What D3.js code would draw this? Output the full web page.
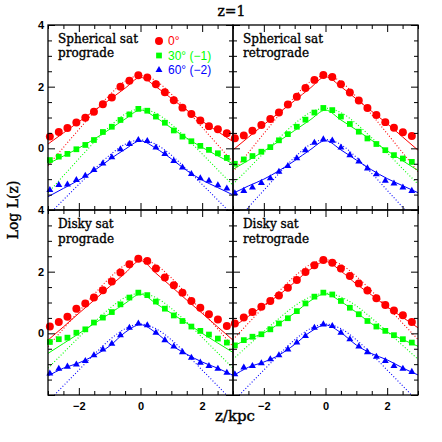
<!DOCTYPE html>
<html>
<head>
<meta charset="utf-8">
<script src="https://cdn.jsdelivr.net/npm/d3@7"></script>
<style>
body { margin: 0; background: #fff; }
</style>
</head>
<body>
<div id="chart"></div>
<script>
// bin centres of the measured points, and the grid the fitted curves were read on
var zPts = [-2.94, -2.65, -2.37, -2.08, -1.79, -1.51, -1.22, -0.93, -0.65, -0.36, -0.07,
            0.22, 0.50, 0.79, 1.08, 1.36, 1.65, 1.94, 2.22, 2.51, 2.80];
var zFit = [-3, -2.5, -2, -1.5, -1, -0.5, 0, 0.5, 1, 1.5, 2, 2.5, 3];

// Spherical sat, prograde
var spPro0  = [0.38, 0.53, 0.66, 0.84, 0.99, 1.19, 1.43, 1.65, 2.00, 2.19, 2.37, 2.30, 2.08, 1.82, 1.56, 1.32, 1.11, 0.90, 0.72, 0.62, 0.49];
var spPro30 = [-0.38, -0.27, -0.18, -0.03, 0.11, 0.27, 0.53, 0.70, 0.92, 1.10, 1.28, 1.22, 1.03, 0.83, 0.58, 0.38, 0.23, 0.08, -0.05, -0.16, -0.31];
var spPro60 = [-1.35, -1.19, -1.17, -1.03, -0.89, -0.70, -0.49, -0.29, -0.03, 0.14, 0.27, 0.24, 0.03, -0.18, -0.41, -0.62, -0.83, -0.97, -1.05, -1.20, -1.30];
var spPro0Solid  = [0.14, 0.50, 0.86, 1.22, 1.58, 1.95, 2.30, 2.00, 1.62, 1.24, 0.88, 0.55, 0.22];
var spPro0Dot    = [-0.56, 0.03, 0.61, 1.19, 1.73, 2.18, 2.36, 2.19, 1.76, 1.24, 0.68, 0.12, -0.45];
var spPro30Solid = [-0.50, -0.25, 0.01, 0.30, 0.62, 0.95, 1.24, 1.00, 0.66, 0.33, 0.03, -0.24, -0.50];
var spPro30Dot   = [-1.44, -0.89, -0.34, 0.20, 0.71, 1.11, 1.28, 1.14, 0.78, 0.32, -0.18, -0.69, -1.20];
var spPro60Solid = [-1.57, -1.30, -1.03, -0.72, -0.36, -0.03, 0.24, 0.00, -0.34, -0.72, -1.03, -1.27, -1.51];
var spPro60Dot   = [-2.18, -1.67, -1.17, -0.68, -0.22, 0.13, 0.27, 0.13, -0.22, -0.68, -1.17, -1.67, -2.18];

// Spherical sat, retrograde
var spRet0  = [0.33, 0.42, 0.57, 0.76, 0.95, 1.16, 1.42, 1.67, 1.96, 2.22, 2.38, 2.31, 2.08, 1.81, 1.55, 1.31, 1.08, 0.85, 0.67, 0.52, 0.40];
var spRet30 = [-0.50, -0.36, -0.25, -0.11, 0.04, 0.26, 0.46, 0.70, 0.93, 1.16, 1.31, 1.24, 1.03, 0.79, 0.54, 0.32, 0.14, -0.06, -0.22, -0.33, -0.44];
var spRet60 = [-1.46, -1.38, -1.27, -1.12, -0.97, -0.76, -0.57, -0.32, -0.06, 0.18, 0.29, 0.25, 0.03, -0.22, -0.43, -0.65, -0.84, -1.05, -1.14, -1.27, -1.38];
var spRet0Solid  = [-0.05, 0.36, 0.77, 1.16, 1.55, 1.95, 2.32, 2.00, 1.60, 1.20, 0.80, 0.37, -0.06];
var spRet0Dot    = [-0.76, -0.14, 0.48, 1.09, 1.67, 2.16, 2.36, 2.16, 1.67, 1.09, 0.48, -0.14, -0.76];
var spRet30Solid = [-0.68, -0.39, -0.09, 0.24, 0.58, 0.92, 1.24, 0.92, 0.60, 0.26, -0.08, -0.40, -0.72];
var spRet30Dot   = [-1.16, -0.66, -0.15, 0.34, 0.80, 1.16, 1.30, 1.16, 0.80, 0.34, -0.15, -0.66, -1.16];
var spRet60Solid = [-1.46, -1.22, -1.00, -0.72, -0.40, -0.05, 0.25, -0.05, -0.38, -0.70, -0.98, -1.21, -1.44];
var spRet60Dot   = [-2.47, -1.91, -1.36, -0.81, -0.29, 0.12, 0.29, 0.12, -0.29, -0.81, -1.36, -1.91, -2.47];

// Disky sat, prograde
var dkPro0  = [0.22, 0.37, 0.54, 0.80, 0.97, 1.16, 1.40, 1.68, 1.97, 2.24, 2.42, 2.35, 2.10, 1.81, 1.56, 1.32, 1.05, 0.83, 0.62, 0.45, 0.24];
var dkPro30 = [-0.28, -0.19, -0.14, 0.02, 0.13, 0.35, 0.51, 0.69, 0.94, 1.16, 1.32, 1.24, 1.03, 0.80, 0.58, 0.40, 0.22, 0.08, -0.04, -0.17, -0.30];
var dkPro60 = [-1.30, -1.15, -1.08, -1.01, -0.90, -0.71, -0.52, -0.34, -0.06, 0.18, 0.32, 0.26, 0.02, -0.22, -0.43, -0.61, -0.79, -0.95, -1.06, -1.15, -1.28];
var dkPro0Solid  = [-0.22, 0.21, 0.65, 1.08, 1.52, 1.95, 2.36, 1.95, 1.52, 1.08, 0.65, 0.21, -0.22];
var dkPro0Dot    = [-0.43, 0.15, 0.71, 1.27, 1.80, 2.22, 2.40, 2.22, 1.80, 1.27, 0.71, 0.15, -0.43];
var dkPro30Solid = [-0.65, -0.33, -0.01, 0.32, 0.64, 0.97, 1.27, 0.97, 0.65, 0.33, 0.00, -0.31, -0.62];
var dkPro30Dot   = [-1.13, -0.63, -0.13, 0.36, 0.81, 1.16, 1.30, 1.16, 0.81, 0.36, -0.13, -0.63, -1.13];
var dkPro60Solid = [-1.38, -1.13, -0.96, -0.72, -0.41, 0.03, 0.28, 0.02, -0.38, -0.68, -0.93, -1.13, -1.36];
var dkPro60Dot   = [-2.22, -1.70, -1.19, -0.68, -0.21, 0.15, 0.30, 0.15, -0.21, -0.68, -1.19, -1.70, -2.22];

// Disky sat, retrograde
var dkRet0  = [0.32, 0.51, 0.69, 0.86, 1.05, 1.23, 1.48, 1.73, 1.99, 2.21, 2.38, 2.29, 2.10, 1.86, 1.62, 1.39, 1.14, 0.92, 0.74, 0.59, 0.37];
var dkRet30 = [-0.39, -0.22, -0.11, -0.03, 0.13, 0.32, 0.49, 0.72, 0.97, 1.19, 1.32, 1.26, 1.05, 0.83, 0.62, 0.40, 0.22, 0.08, -0.06, -0.19, -0.30];
var dkRet60 = [-1.33, -1.11, -1.06, -0.97, -0.84, -0.71, -0.52, -0.30, -0.09, 0.18, 0.29, 0.24, 0.02, -0.19, -0.43, -0.61, -0.76, -0.90, -1.06, -1.15, -1.25];
var dkRet0Solid  = [0.20, 0.55, 0.91, 1.25, 1.66, 2.07, 2.33, 2.02, 1.60, 1.24, 0.86, 0.52, 0.18];
var dkRet0Dot    = [-0.20, 0.33, 0.86, 1.37, 1.85, 2.23, 2.38, 2.23, 1.85, 1.37, 0.86, 0.33, -0.20];
var dkRet30Solid = [-0.42, -0.18, 0.01, 0.32, 0.66, 1.05, 1.28, 1.03, 0.68, 0.31, 0.04, -0.20, -0.42];
var dkRet30Dot   = [-0.84, -0.39, 0.06, 0.49, 0.89, 1.18, 1.30, 1.18, 0.89, 0.49, 0.06, -0.39, -0.84];
var dkRet60Solid = [-1.38, -1.10, -0.93, -0.70, -0.36, 0.04, 0.27, 0.02, -0.38, -0.66, -0.86, -1.12, -1.35];
var dkRet60Dot   = [-2.22, -1.70, -1.19, -0.68, -0.21, 0.15, 0.30, 0.15, -0.21, -0.68, -1.19, -1.70, -2.22];

var panelLabels = [["Spherical sat", "prograde"], ["Spherical sat", "retrograde"],
                   ["Disky sat", "prograde"], ["Disky sat", "retrograde"]];
var legendLabels = ["0\u00b0", "30\u00b0 (\u22121)", "60\u00b0 (\u22122)"];
var colors = ["#ff0000", "#00ff00", "#0000ff"];
var xMajor = [-2, 0, 2];
var xMinor = [-3, -2.5, -1.5, -1, -0.5, 0.5, 1, 1.5, 2.5, 3];
var yMajor = [-2, 0, 2, 4];
var yMinor = [-1.5, -1, -0.5, 0.5, 1, 1.5, 2.5, 3, 3.5];

var panels = [
  { pts: [spPro0, spPro30, spPro60], solid: [spPro0Solid, spPro30Solid, spPro60Solid], dot: [spPro0Dot, spPro30Dot, spPro60Dot] },
  { pts: [spRet0, spRet30, spRet60], solid: [spRet0Solid, spRet30Solid, spRet60Solid], dot: [spRet0Dot, spRet30Dot, spRet60Dot] },
  { pts: [dkPro0, dkPro30, dkPro60], solid: [dkPro0Solid, dkPro30Solid, dkPro60Solid], dot: [dkPro0Dot, dkPro30Dot, dkPro60Dot] },
  { pts: [dkRet0, dkRet30, dkRet60], solid: [dkRet0Solid, dkRet30Solid, dkRet60Solid], dot: [dkRet0Dot, dkRet30Dot, dkRet60Dot] }
];

var padLeft = 48, padTop = 25, size = 185;
var serif = "'DejaVu Serif', serif";
var sans = "'Liberation Sans', Arial, sans-serif";

var svg = d3.select("#chart")
    .append("svg")
    .attr("width", 442)
    .attr("height", 442)

var x = d3.scaleLinear().domain([-3, 3]).range([0, size]);
var y = d3.scaleLinear().domain([-2, 4]).range([size, 0]);

var fitLine = d3.line()
    .x((d, i) => x(zFit[i]))
    .y(d => y(d))
    .curve(d3.curveMonotoneX);

var symbols = [
  d3.symbol().type(d3.symbolCircle).size(50),
  d3.symbol().type(d3.symbolSquare).size(33),
  d3.symbol().type(d3.symbolTriangle).size(21)
];

function tickAxis(g, axis, tr) {
  g.append("g")
    .attr("transform", tr)
    .call(axis)
    .call(a => a.select(".domain").remove())
    .call(a => a.selectAll("line").attr("stroke", "#000").attr("stroke-width", 1))
    .call(a => a.selectAll("text").attr("font-family", sans).attr("font-weight", "bold")
                .attr("font-size", 11).attr("fill", "#000"));
}

function heavy(t) {
  t.attr("stroke", "#000").attr("stroke-width", 0.35);
}

panels.forEach(function(p, k) {
  var col = k % 2, row = Math.floor(k / 2);
  var g = svg.append("g")
    .attr("transform", "translate(" + (padLeft + col * size) + "," + (padTop + row * size) + ")");

  g.append("clipPath").attr("id", "clip" + k)
    .append("rect").attr("width", size).attr("height", size);

  var fits = g.append("g").attr("clip-path", "url(#clip" + k + ")");
  p.solid.forEach(function(s, c) {
    fits.append("path").attr("d", fitLine(s)).attr("fill", "none")
      .attr("stroke", colors[c]).attr("stroke-width", 1);
  });
  p.dot.forEach(function(s, c) {
    fits.append("path").attr("d", fitLine(s)).attr("fill", "none")
      .attr("stroke", colors[c]).attr("stroke-width", 1.1).attr("stroke-dasharray", "1,2");
  });

  p.pts.forEach(function(s, c) {
    g.append("g").selectAll("path")
      .data(s)
      .enter().append("path")
        .attr("d", symbols[c])
        .attr("fill", colors[c])
        .attr("transform", (d, i) => "translate(" + x(zPts[i]) + "," + y(d) + ")");
  });

  // inward ticks on all four sides
  var fmt = d3.format("d");
  tickAxis(g, d3.axisBottom(x).tickValues(xMajor).tickSizeInner(-7).tickSizeOuter(0).tickPadding(7)
      .tickFormat(row == 1 ? fmt : ""), "translate(0," + size + ")");
  tickAxis(g, d3.axisBottom(x).tickValues(xMinor).tickSize(-4).tickFormat(""), "translate(0," + size + ")");
  tickAxis(g, d3.axisTop(x).tickValues(xMajor).tickSize(-7).tickFormat(""), "translate(0,0)");
  tickAxis(g, d3.axisTop(x).tickValues(xMinor).tickSize(-4).tickFormat(""), "translate(0,0)");
  tickAxis(g, d3.axisLeft(y).tickValues(yMajor).tickSizeInner(-7).tickSizeOuter(0).tickPadding(4)
      .tickFormat(col == 0 ? (d => d == -2 ? "" : fmt(d)) : ""), "translate(0,0)");
  tickAxis(g, d3.axisLeft(y).tickValues(yMinor).tickSize(-4).tickFormat(""), "translate(0,0)");
  tickAxis(g, d3.axisRight(y).tickValues(yMajor).tickSize(-7).tickFormat(""), "translate(" + size + ",0)");
  tickAxis(g, d3.axisRight(y).tickValues(yMinor).tickSize(-4).tickFormat(""), "translate(" + size + ",0)");

  g.append("rect")
    .attr("width", size).attr("height", size)
    .attr("fill", "none").attr("stroke", "#000").attr("stroke-width", 1.3);

  g.selectAll(".plabel")
    .data(panelLabels[k])
    .enter().append("text")
      .attr("class", "plabel")
      .attr("x", 10)
      .attr("y", (d, i) => (row == 0 ? 17.7 : 18.3) + i * 14.5)
      .attr("font-family", serif)
      .attr("font-size", 12)
      .text(d => d)
      .call(heavy);

  if (k == 0) {
    var legend = g.append("g").attr("transform", "translate(111,16)");
    var item = legend.selectAll("g")
      .data(legendLabels)
      .enter().append("g")
      .attr("transform", (d, i) => "translate(0," + i * 14.5 + ")");
    item.append("path")
      .attr("d", (d, i) => symbols[i]())
      .attr("fill", (d, i) => colors[i]);
    item.append("text")
      .attr("x", 9)
      .attr("dy", "0.36em")
      .attr("font-family", sans)
      .attr("font-size", 12)
      .attr("fill", (d, i) => colors[i])
      .text(d => d);
  }
});

svg.append("text")
  .attr("x", 231.5).attr("y", 16)
  .attr("text-anchor", "middle")
  .attr("font-family", serif).attr("font-size", 14)
  .text("z=1")
  .call(heavy);

svg.append("text")
  .attr("transform", "translate(17.5,210) rotate(-90)")
  .attr("text-anchor", "middle")
  .attr("font-family", serif).attr("font-size", 14)
  .text("Log L(z)")
  .call(heavy);

svg.append("text")
  .attr("x", 235).attr("y", 421)
  .attr("text-anchor", "middle")
  .attr("font-family", serif).attr("font-size", 15)
  .text("z/kpc")
  .call(heavy);
</script>
</body>
</html>
